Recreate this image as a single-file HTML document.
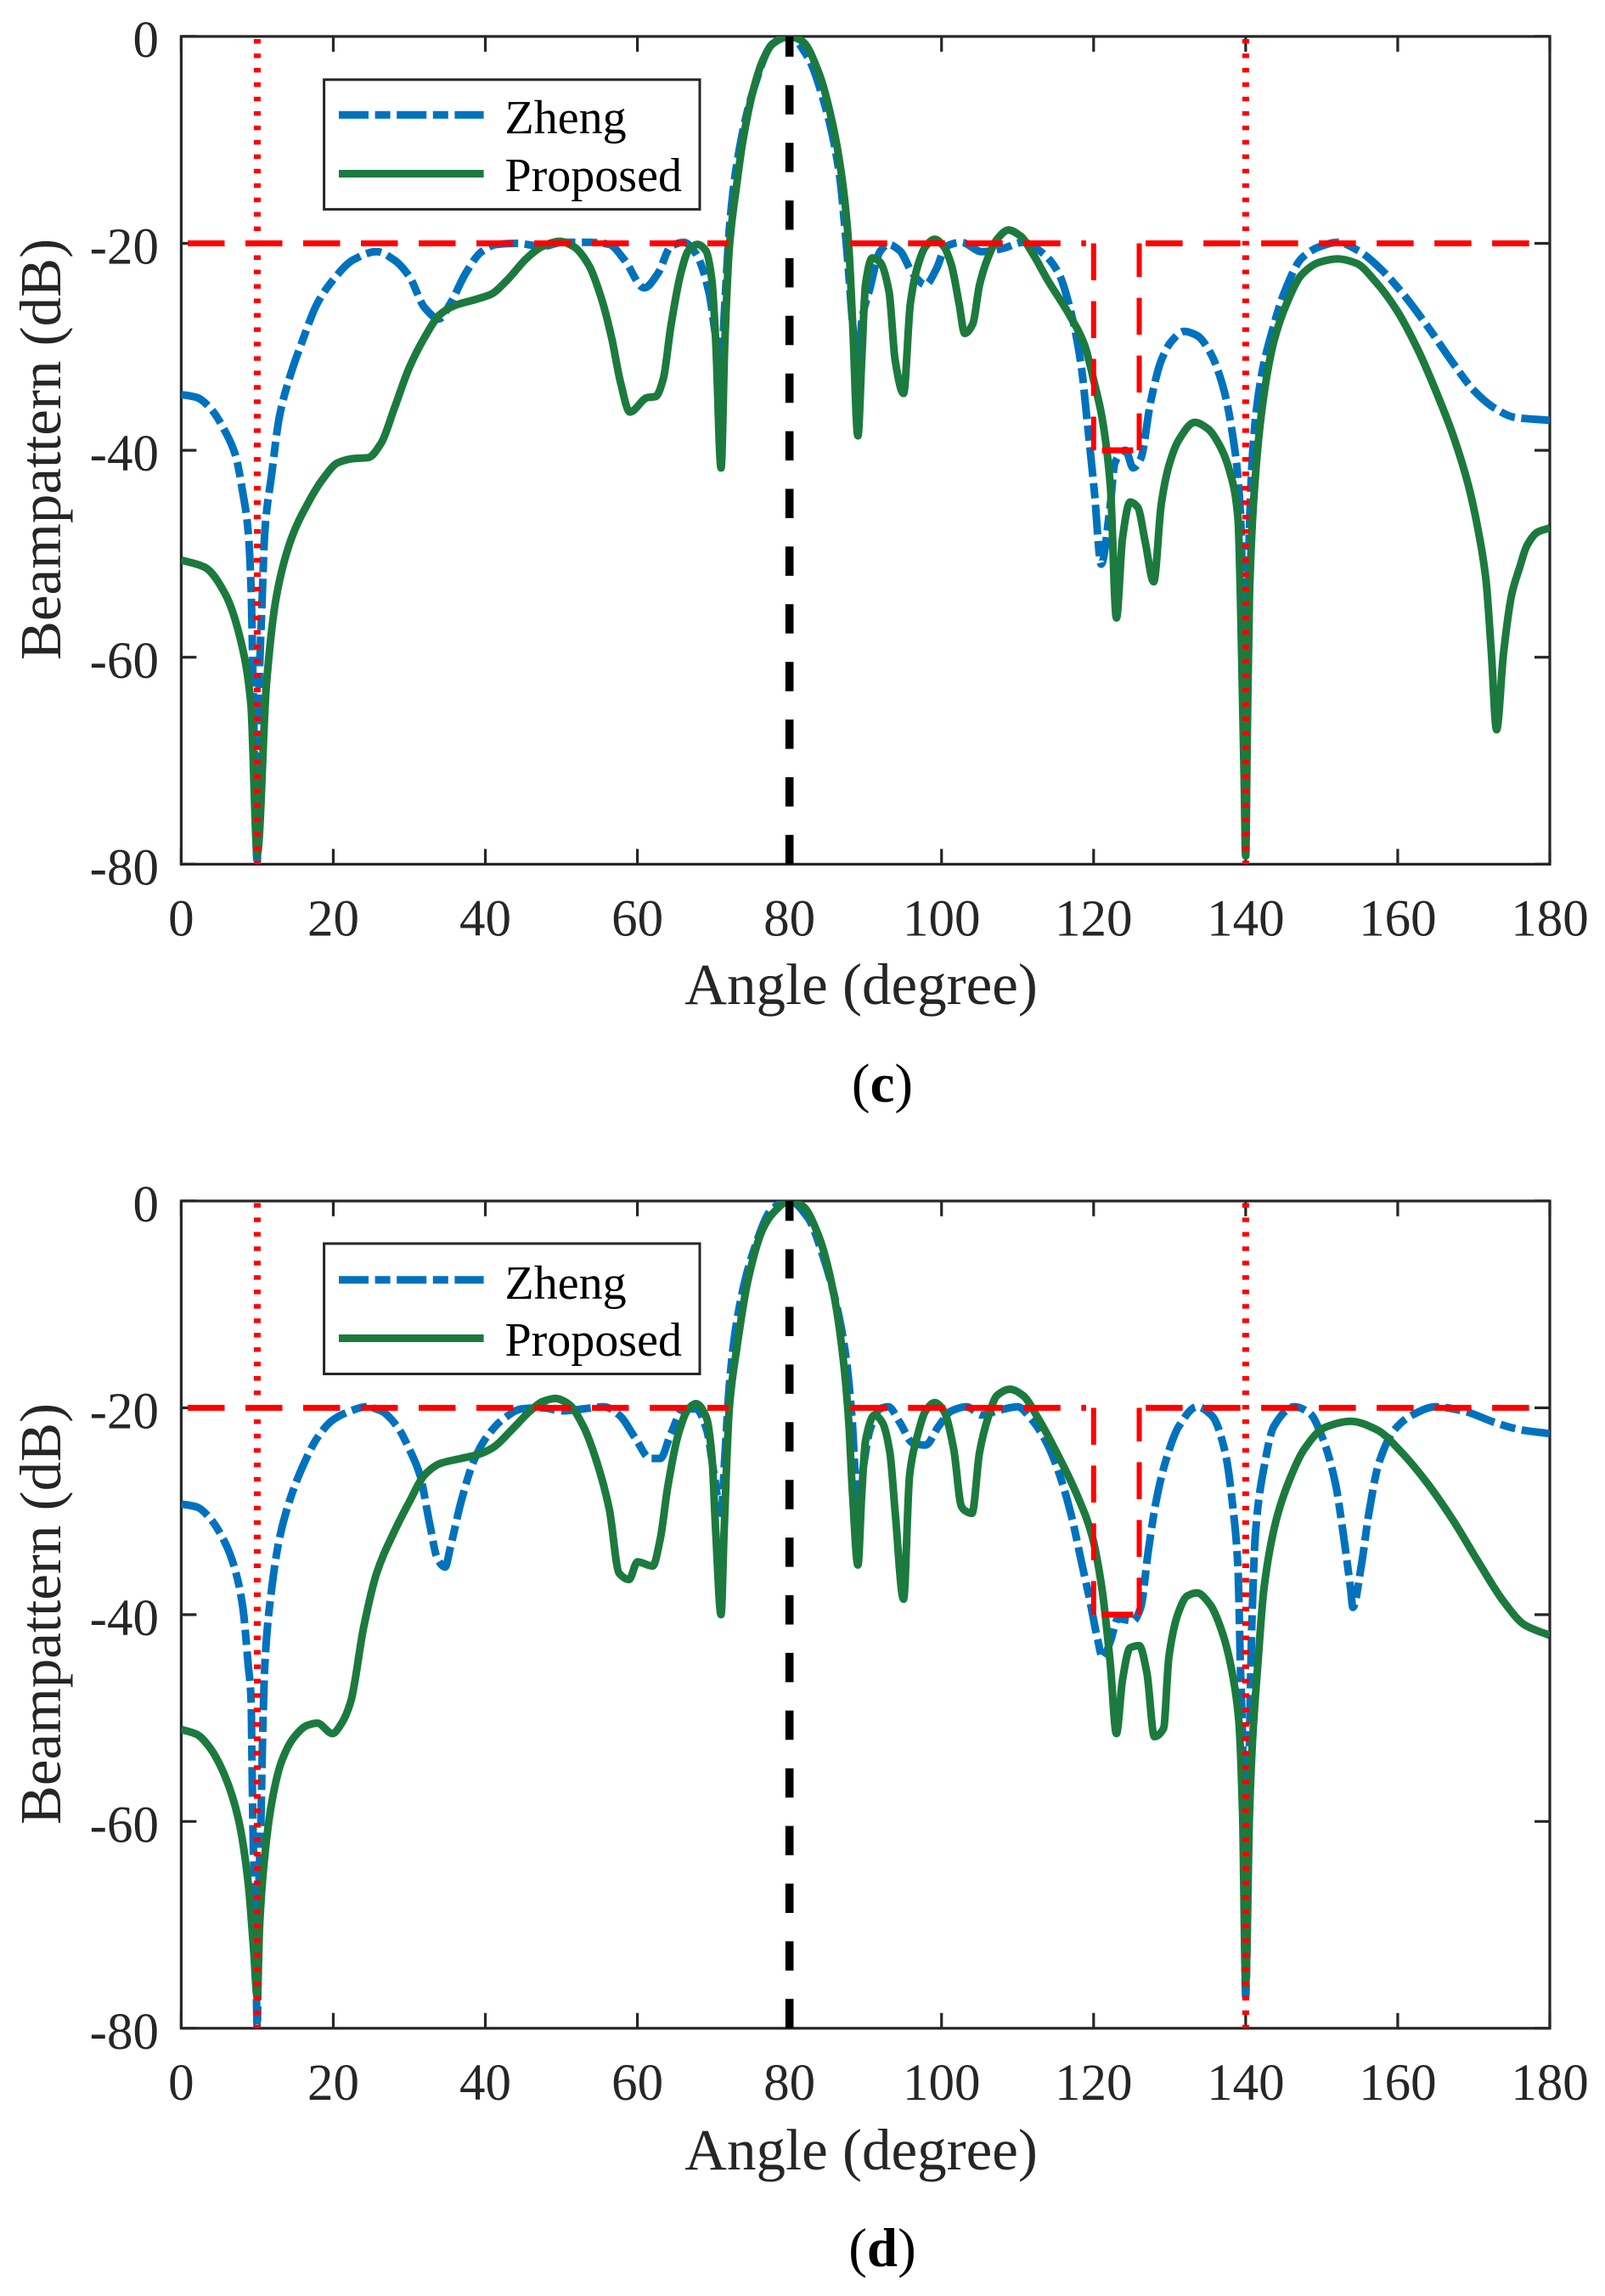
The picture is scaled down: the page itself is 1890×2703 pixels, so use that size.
<!DOCTYPE html>
<html lang="en">
<head>
<meta charset="utf-8">
<title>Beampattern comparison</title>
<style>
html,body{margin:0;padding:0;background:#fff;}
svg{display:block;}
text{font-family:"Liberation Serif",serif;}
</style>
</head>
<body>
<svg id="figure" xmlns="http://www.w3.org/2000/svg" width="1890" height="2703" viewBox="0 0 1890 2703">
  <rect x="0" y="0" width="1890" height="2703" fill="#fff"/>
  <defs>
    <clipPath id="clip-c"><rect x="213.4" y="42.9" width="1611.6" height="974.5"/></clipPath>
    <clipPath id="clip-d"><rect x="213.4" y="1413.9" width="1611.6" height="973.9"/></clipPath>
  </defs>

  <g id="panel-c"></g>
  <text x="71" y="529" transform="rotate(-90 71 529)" text-anchor="middle" font-size="69" fill="#262626">Beampattern (dB)</text>
  <text x="1014" y="1182" text-anchor="middle" font-size="69" fill="#262626">Angle (degree)</text>
  <g>
    <rect x="381.6" y="93.8" width="442.4" height="152.6" fill="#fff" stroke="#262626" stroke-width="3"/>
    <line x1="399" y1="135.3" x2="569.6" y2="135.3" stroke="#0072BD" stroke-width="9" stroke-dasharray="35 7.6 18 7.6"/>
    <text x="594.5" y="157" font-size="56" fill="#000">Zheng</text>
    <line x1="399" y1="204.5" x2="569.6" y2="204.5" stroke="#1c7a3e" stroke-width="9"/>
    <text x="594.5" y="225" font-size="56" fill="#000">Proposed</text>
  </g>
  <text x="1039" y="1297" text-anchor="middle" font-size="65" fill="#000">(<tspan font-weight="bold">c</tspan>)</text>

  <g id="panel-d"></g>
  <text x="71" y="1900" transform="rotate(-90 71 1900)" text-anchor="middle" font-size="69" fill="#262626">Beampattern (dB)</text>
  <text x="1014" y="2554" text-anchor="middle" font-size="69" fill="#262626">Angle (degree)</text>
  <g>
    <rect x="381.6" y="1464" width="442.4" height="153.5" fill="#fff" stroke="#262626" stroke-width="3"/>
    <line x1="399" y1="1506.8" x2="569.6" y2="1506.8" stroke="#0072BD" stroke-width="9" stroke-dasharray="35 7.6 18 7.6"/>
    <text x="594.5" y="1529" font-size="56" fill="#000">Zheng</text>
    <line x1="399" y1="1575.5" x2="569.6" y2="1575.5" stroke="#1c7a3e" stroke-width="9"/>
    <text x="594.5" y="1596" font-size="56" fill="#000">Proposed</text>
  </g>
  <text x="1039" y="2668" text-anchor="middle" font-size="65" fill="#000">(<tspan font-weight="bold">d</tspan>)</text>
</svg>

<script>
// Axis ticks
var xTicks = [0,20,40,60,80,100,120,140,160,180];
var yTicks = [0,-20,-40,-60,-80];

// Reference markers
var desiredAngle = [80];
var nullAngles = [10,140];

// Mask (upper-bound) segments
var maskAngles1 = [0,72];
var maskDb1 = [-20,-20];
var maskAngles2 = [88,119];
var maskDb2 = [-20,-20];
var maskAngles3 = [120,120];
var maskDb3 = [-20,-40];
var maskAngles4 = [121.1,125.2];
var maskDb4 = [-40,-40];
var maskAngles5 = [126,126];
var maskDb5 = [-40,-20];
var maskAngles6 = [126,180];
var maskDb6 = [-20,-20];

// Panel (c) series
var zhengAnglesC = [0,2.1,3.8,5.8,7.1,8.1,8.8,9.2,9.5,10,10.2,10.6,11,11.9,12.9,14.2,15.9,17.9,19.9,22.6,25.7,28,30,32,33.9,35.4,37.4,39.5,41.5,44.2,47.5,50.2,53.6,56.3,58.3,60.9,62.7,64.4,66.1,67.7,69.4,70.4,71,71.5,72.1,73.1,75.2,77.8,80,82.4,84.4,86.5,87.5,88.5,89,89.5,90.6,91.9,93,94.5,96.2,97.9,99.3,100.6,102.6,105.3,108,110.7,113.4,115.4,117.1,118.4,119.1,120.1,121,122.2,122.8,124.2,125.2,126.2,127.5,128.9,130.2,131.9,133.6,135.3,137,138.3,139.3,139.6,140,140.3,140.9,142,143.4,145.1,147.4,149.8,152.1,154.8,157.8,160.5,163.9,167.3,170,172.7,175.3,180];
var zhengDbC = [-34.6,-34.9,-35.9,-38.2,-40.4,-44.1,-47.8,-53.6,-64.5,-80,-64.5,-55.3,-47.8,-42.3,-36.8,-33.1,-29.5,-25.8,-23.6,-21.6,-20.8,-21.6,-23.2,-26.2,-27.3,-25.8,-22.9,-20.8,-20.1,-20,-20.3,-19.9,-19.9,-20.1,-21.6,-24.3,-22.9,-20.3,-19.9,-21,-24.7,-29.5,-31.6,-25.8,-18.5,-12.2,-5.3,-0.7,0,-2,-6,-13,-20.3,-29.5,-33,-27.6,-24.3,-20.8,-20.1,-20.7,-22.9,-24,-22.5,-20.3,-19.9,-20.8,-20.5,-19.9,-21,-22.9,-26.9,-32,-36.8,-44,-51,-45.2,-41.2,-40,-41.7,-40.8,-35.3,-31.3,-29.5,-28.5,-28.9,-30.5,-33.8,-38.6,-45.9,-53.9,-79,-54,-40.4,-33.1,-28.7,-24.7,-21.4,-20.3,-19.9,-20.7,-22.5,-24.7,-28,-31.6,-34.2,-35.9,-36.8,-37.1];
var proposedAnglesC = [0,3.1,5.8,7.8,9.16,10,11.2,12.5,14.5,16.6,18.6,20.6,22.6,24.6,26.3,28,30,32,34,36,38.8,40.8,42.8,45.5,47.5,49.8,51.6,53.6,55.3,56.6,57.8,59,61.3,62.4,63.4,64.4,65.7,66.7,67.9,69,69.8,70.3,71,71.5,72.1,73.1,73.8,75.2,76.5,77.8,80,81.75,83.8,85.8,87.1,87.8,88.3,89,89.5,90,90.9,91.9,93.1,93.9,95,95.9,96.9,97.9,99.1,100.3,101.3,102.3,103.05,104.1,105,106.1,107.3,108.8,110.4,112,114,116.8,118.8,120.1,121.1,122.2,123,123.8,124.8,125.8,126.8,127.9,128.9,129.9,131.2,133.3,135,136.7,138,139,139.3,139.5,139.8,140,140.2,140.5,141.3,142.35,143.7,145.4,147.4,149.8,152.1,154.5,157.2,159.9,162.6,165.2,167.3,169.3,170.6,171.6,172.3,173,173.9,175,176,177,178.4,180];
var proposedDbC = [-50.6,-51.3,-53.9,-58.3,-64.5,-79,-62.7,-54.2,-48.5,-45.2,-42.8,-41.2,-40.8,-40.7,-39.3,-36,-32,-29.1,-26.9,-26,-25.4,-24.9,-23.6,-21.4,-20.3,-19.8,-20.3,-22.1,-25.4,-29.1,-33.5,-36.3,-34.9,-34.8,-33.1,-28,-22.9,-20.7,-20.1,-20.7,-23.6,-29.5,-41.7,-29.5,-20.3,-14.1,-10.4,-5.3,-2.3,-0.7,0,-0.5,-3.4,-8.9,-14.8,-20.3,-27.6,-38.6,-31.3,-24,-21.4,-21.8,-24.7,-31.3,-34.5,-25.8,-22.1,-20.3,-19.6,-20.3,-22.1,-25.8,-28.7,-27.8,-24,-21.4,-19.6,-18.7,-19.3,-21,-23.6,-26.9,-29.8,-33.5,-36.8,-43.4,-56.2,-48.5,-45,-45.5,-48.9,-52.7,-45.2,-41.5,-39,-37.3,-37.9,-39.7,-42.3,-46.7,-53.9,-60.8,-71.8,-79.2,-68.2,-54,-42.3,-34.9,-29.5,-25.8,-23,-21.8,-21.5,-21.9,-23.8,-26.5,-30.2,-34.6,-38.6,-43.4,-47.8,-52.5,-59.4,-67,-59.7,-53.9,-51.4,-49.2,-47.9,-47.5];

// Panel (d) series
var zhengAnglesD = [0,2.1,3.8,5.8,7.1,8.1,8.8,9.2,9.3,9.5,9.7,10,10.2,10.5,10.7,11,11.9,12.9,14.2,15.9,17.9,19.9,22.3,24.3,26.3,28.4,30,31.4,32.7,33.7,34.7,35.4,36.8,38.5,40.1,42.5,44.8,47.5,50.2,52.9,55.6,57.6,59.7,61.7,63,64.4,66.1,67.7,69.1,70.1,71,71.5,72.1,73.1,75.2,77.8,80,82.4,84.4,86.5,87.5,88.2,89,89.7,90.6,91.9,93,94.5,96.2,97.9,99.6,101.3,103.3,105.3,107.3,110,111.7,113.7,115.4,117.1,118.4,119.5,120.5,121.2,122.2,123.2,125.2,126.2,127.2,128.2,129.5,131.2,133.6,135.6,137.3,138.3,139,139.3,139.6,140,140.5,140.8,141.3,142.4,143.7,146.4,148.4,150.1,151.8,152.8,153.8,154.1,155.2,156.2,157.5,159.6,161.9,165,168.6,172.7,176,180];
var zhengDbD = [-29.3,-29.6,-30.7,-33.1,-35.7,-39.3,-44.8,-48.5,-53.8,-63,-66.7,-80,-66.7,-59.3,-52,-44.8,-37.5,-32.7,-29.1,-25.8,-22.9,-21.2,-20.3,-19.9,-20.3,-21.8,-24,-26.5,-31.3,-34.6,-35.4,-33.5,-29.1,-25.1,-22.9,-21,-20.1,-20,-20.3,-20.1,-19.9,-20.7,-22.9,-24.9,-24.9,-22.5,-20.1,-20.1,-22.1,-26.5,-30.2,-24.7,-17.7,-11.5,-5,-0.7,0,-1.6,-5.3,-11.1,-15.5,-20.7,-29.5,-25.8,-22.1,-20.1,-19.9,-21.4,-23.4,-23.6,-21.8,-20.3,-19.9,-20.7,-20.3,-19.9,-21,-23.2,-26.2,-30.5,-34.9,-38.6,-42.3,-44.2,-42.6,-40.4,-40.6,-39.3,-33.8,-29.1,-25.1,-21.8,-19.9,-20.8,-24.3,-29.5,-35.7,-44.8,-52.2,-76.9,-52.2,-41.2,-32,-25.8,-21.8,-19.9,-20.5,-22.9,-27.3,-32,-37.5,-39.3,-35.3,-30.2,-25.4,-22.1,-20.7,-19.9,-20.3,-21.4,-22.1,-22.5];
var proposedAnglesD = [0,2.1,3.8,5.8,7.5,8.8,9.5,10,10.3,10.8,11.9,13.2,14.9,16.6,17.9,19.9,21.1,22.3,24,25.7,28,30,32,34,36.8,39.1,41.1,43.5,45.9,47.5,49.2,50.9,52.9,54.6,56.3,57.6,58.9,60,62,63,64,65.4,66.7,67.7,69.1,69.8,70.3,71,71.4,72.1,73.1,74.5,76.5,77.8,80,81.75,83.8,85.8,87.1,87.8,88.3,89,89.5,90,91.2,92.2,93.2,93.9,95,95.8,96.9,97.9,99.1,100.3,101.6,102.6,103,104,105,106.1,107.3,109,110.7,112.7,115.4,117.8,119.8,121.1,122.2,123,123.8,124.8,126,127,128,129.2,129.9,131.2,132.3,133.6,135.3,137,138.3,139.1,139.4,139.6,140,140.5,140.9,141.6,142.4,144,145.8,147.7,150.4,153.8,157.2,160.5,163.9,167.3,170.6,174,176.7,180];
var proposedDbD = [-51.1,-51.6,-52.9,-55.7,-59.7,-65.9,-72.2,-77,-70.3,-64.8,-58.2,-54.2,-51.8,-50.7,-50.5,-51.5,-50.5,-48.4,-41.2,-36,-32,-29.1,-26.5,-25.4,-24.9,-24.5,-23.8,-22.1,-20.3,-19.4,-19.1,-19.6,-21.8,-25.1,-29.8,-36,-36.6,-34.9,-35.3,-32.7,-27.6,-22.5,-20.1,-19.6,-21,-24.7,-32,-40,-32,-19.9,-14.1,-7.8,-2.7,-1.2,0,-0.5,-3.3,-8.9,-15.5,-21.4,-28.4,-35.2,-28.4,-23.2,-20.7,-21.4,-24.3,-30.1,-38.5,-26.5,-22.5,-20.3,-19.5,-20.3,-24,-29.5,-29.9,-30.2,-24.3,-21,-18.8,-18.2,-18.8,-21,-24.7,-28.4,-32.4,-37.5,-44.8,-51.5,-46.3,-43.2,-43,-45.6,-51.8,-51,-44.1,-39.7,-38.2,-37.9,-39,-41.9,-45.9,-50.3,-54.7,-59.3,-75.8,-59.3,-52.2,-44.8,-37.5,-30.9,-26.9,-24,-21.9,-21.3,-22.1,-24.3,-27.3,-30.9,-34.9,-38.8,-41,-42];

var SVGNS = 'http://www.w3.org/2000/svg';
var AXIS_COLOR = '#262626';

function makeEl(tag, parent) {
  var el = document.createElementNS(SVGNS, tag);
  parent.appendChild(el);
  return el;
}

function drawPanel(panelId, top, bottom, zAngles, zDb, pAngles, pDb) {
  var g = document.getElementById(panelId);
  var prefix = panelId + '-';
  var left = 213.4, right = 1825;
  function xOf(a) { return left + (a / 180) * (right - left); }
  function yOf(d) { return top + (d / -80) * (bottom - top); }
  function pathOf(angles, dbs) {
    var s = '';
    for (var i = 0; i < angles.length; i++) {
      s += (i ? 'L' : 'M') + xOf(angles[i]).toFixed(2) + ' ' + yOf(dbs[i]).toFixed(2);
    }
    return s;
  }
  // Monotone cubic path through every data point (no overshoot at the nulls)
  function smoothPathOf(angles, dbs) {
    var n = angles.length, h = [], m = [], t = [], i;
    for (i = 0; i < n - 1; i++) {
      h.push(angles[i + 1] - angles[i]);
      m.push((dbs[i + 1] - dbs[i]) / h[i]);
    }
    t.push(m[0]);
    for (i = 1; i < n - 1; i++) {
      if (m[i - 1] * m[i] <= 0) {
        t.push(0);
      } else {
        var w1 = 2 * h[i] + h[i - 1], w2 = h[i] + 2 * h[i - 1];
        t.push((w1 + w2) / (w1 / m[i - 1] + w2 / m[i]));
      }
    }
    t.push(m[n - 2]);
    var s = 'M' + xOf(angles[0]).toFixed(2) + ' ' + yOf(dbs[0]).toFixed(2);
    for (i = 0; i < n - 1; i++) {
      var d = h[i] / 3;
      s += 'C' + xOf(angles[i] + d).toFixed(2) + ' ' + yOf(dbs[i] + t[i] * d).toFixed(2) +
           ' ' + xOf(angles[i + 1] - d).toFixed(2) + ' ' + yOf(dbs[i + 1] - t[i + 1] * d).toFixed(2) +
           ' ' + xOf(angles[i + 1]).toFixed(2) + ' ' + yOf(dbs[i + 1]).toFixed(2);
    }
    return s;
  }

  // axes box
  var box = makeEl('rect', g);
  
  
  box.setAttribute('x', left);
  box.setAttribute('y', top);
  box.setAttribute('width', right - left);
  box.setAttribute('height', bottom - top);
  box.setAttribute('fill', 'none');
  box.setAttribute('stroke', AXIS_COLOR);
  box.setAttribute('stroke-width', '3.2');

  // x ticks and labels
  xTicks.forEach(function (v) {
    var x = xOf(v);
    [[bottom, bottom - 18], [top, top + 18]].forEach(function (pair) {
      var t = makeEl('line', g);
      
      
      t.setAttribute('x1', x); t.setAttribute('x2', x);
      t.setAttribute('y1', pair[0]); t.setAttribute('y2', pair[1]);
      t.setAttribute('stroke', AXIS_COLOR);
      t.setAttribute('stroke-width', '3.2');
    });
    var lab = makeEl('text', g);
    
    
    lab.setAttribute('x', x);
    lab.setAttribute('y', bottom + 84);
    lab.setAttribute('text-anchor', 'middle');
    lab.setAttribute('font-size', '61');
    lab.setAttribute('fill', AXIS_COLOR);
    lab.textContent = String(v);
  });

  // y ticks and labels
  yTicks.forEach(function (v) {
    var y = yOf(v);
    [[left, left + 18], [right, right - 18]].forEach(function (pair) {
      var t = makeEl('line', g);
      
      
      t.setAttribute('y1', y); t.setAttribute('y2', y);
      t.setAttribute('x1', pair[0]); t.setAttribute('x2', pair[1]);
      t.setAttribute('stroke', AXIS_COLOR);
      t.setAttribute('stroke-width', '3.2');
    });
    var lab = makeEl('text', g);
    
    
    lab.setAttribute('x', 187);
    lab.setAttribute('y', y + 24);
    lab.setAttribute('text-anchor', 'end');
    lab.setAttribute('font-size', '61');
    lab.setAttribute('fill', AXIS_COLOR);
    lab.textContent = String(v);
  });

  // clipped plot layer
  var plot = makeEl('g', g);
  
  
  plot.setAttribute('clip-path', 'url(#clip-' + panelId.slice(-1) + ')');

  var zheng = makeEl('path', plot);
  
  
  zheng.setAttribute('d', smoothPathOf(zAngles, zDb));
  zheng.setAttribute('fill', 'none');
  zheng.setAttribute('stroke', '#0072BD');
  zheng.setAttribute('stroke-width', '9');
  zheng.setAttribute('stroke-dasharray', '35 7.6 18 7.6');

  var proposed = makeEl('path', plot);
  
  
  proposed.setAttribute('d', smoothPathOf(pAngles, pDb));
  proposed.setAttribute('fill', 'none');
  proposed.setAttribute('stroke', '#1c7a3e');
  proposed.setAttribute('stroke-width', '9');
  proposed.setAttribute('stroke-linejoin', 'round');

  // red mask segments
  var maskSegs = [
    [maskAngles1, maskDb1, '43.5 24.5', 60.4, 7],
    [maskAngles2, maskDb2, '43.5 24.5', 0, 7],
    [maskAngles3, maskDb3, '43.5 24.5', 0, 6],
    [maskAngles4, maskDb4, 'none', 0, 7],
    [maskAngles5, maskDb5, '43.5 24.5', 0, 6],
    [maskAngles6, maskDb6, '43.5 24.5', 60.4, 7]
  ];
  maskSegs.forEach(function (seg) {
    var m = makeEl('path', plot);
    
    
    m.setAttribute('d', pathOf(seg[0], seg[1]));
    m.setAttribute('fill', 'none');
    m.setAttribute('stroke', '#ff0000');
    m.setAttribute('stroke-width', seg[4]);
    m.setAttribute('stroke-dasharray', seg[2]);
    m.setAttribute('stroke-dashoffset', seg[3]);
  });

  // red dotted null markers
  nullAngles.forEach(function (a) {
    var n = makeEl('line', plot);
    
    
    n.setAttribute('x1', xOf(a)); n.setAttribute('x2', xOf(a));
    n.setAttribute('y1', yOf(-80)); n.setAttribute('y2', yOf(0));
    n.setAttribute('stroke', '#ff0000');
    n.setAttribute('stroke-width', '8');
    n.setAttribute('stroke-dasharray', '5.4 11.57');
    n.setAttribute('stroke-dashoffset', '1.3');
  });

  // black dashed desired-signal marker
  desiredAngle.forEach(function (a) {
    var d = makeEl('line', plot);
    
    
    d.setAttribute('x1', xOf(a)); d.setAttribute('x2', xOf(a));
    d.setAttribute('y1', yOf(-80)); d.setAttribute('y2', yOf(0));
    d.setAttribute('stroke', '#000');
    d.setAttribute('stroke-width', '9.6');
    d.setAttribute('stroke-dasharray', '34.5 33.4');
  });
}

drawPanel('panel-c', 42.9, 1017.4, zhengAnglesC, zhengDbC, proposedAnglesC, proposedDbC);
drawPanel('panel-d', 1413.9, 2387.8, zhengAnglesD, zhengDbD, proposedAnglesD, proposedDbD);
</script>
</body>
</html>
